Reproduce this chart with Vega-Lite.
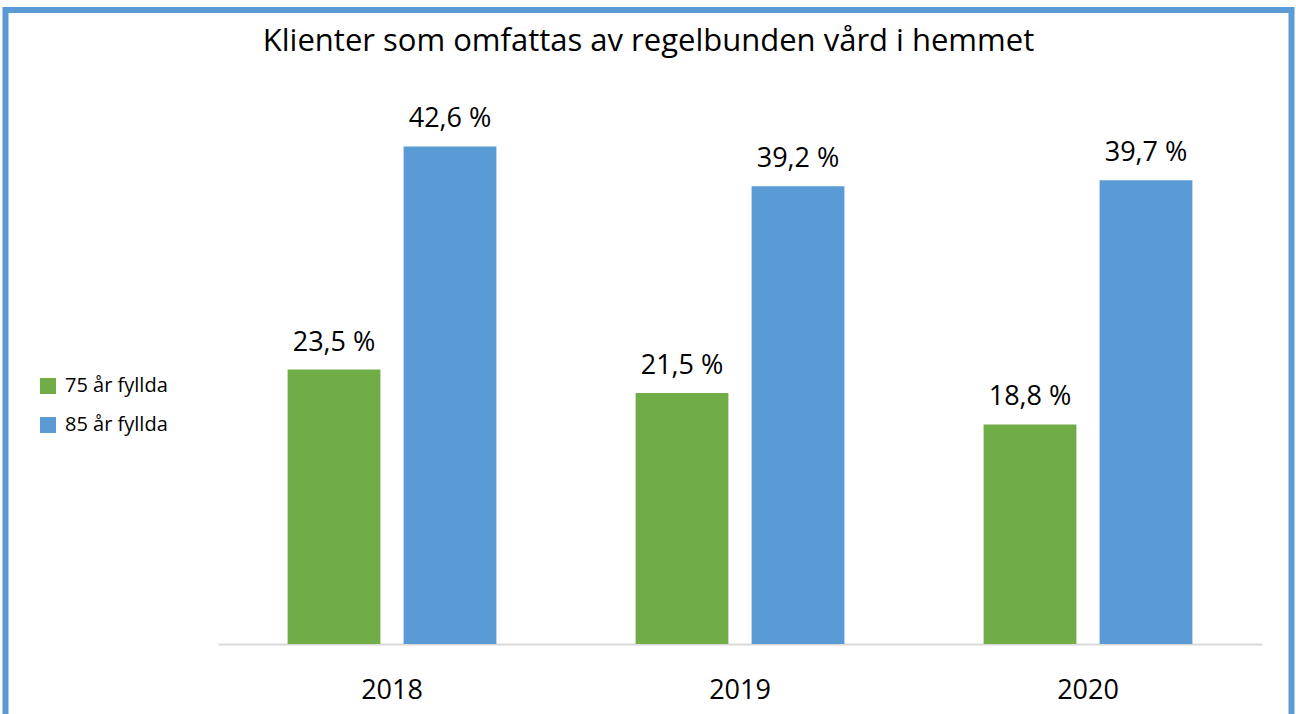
{
  "$schema": "https://vega.github.io/schema/vega-lite/v6.json",
  "width": 1286,
  "height": 710,
  "autosize": {"type": "none"},
  "padding": {"left": 5.5, "top": 10, "right": 4.5, "bottom": -6},
  "background": "white",
  "config": {
    "font": "Open Sans",
    "view": {"stroke": "#5B9BD5", "strokeWidth": 6}
  },
  "title": {
    "text": "Klienter som omfattas av regelbunden vård i hemmet",
    "anchor": "middle",
    "frame": "group",
    "baseline": "alphabetic",
    "offset": -72,
    "fontSize": 31,
    "fontWeight": "normal",
    "color": "#000000"
  },
  "data": {
    "values": [
      {"year": "2018", "group": "75 år fyllda", "value": 23.5},
      {"year": "2018", "group": "85 år fyllda", "value": 42.6},
      {"year": "2019", "group": "75 år fyllda", "value": 21.5},
      {"year": "2019", "group": "85 år fyllda", "value": 39.2},
      {"year": "2020", "group": "75 år fyllda", "value": 18.8},
      {"year": "2020", "group": "85 år fyllda", "value": 39.7}
    ]
  },
  "transform": [
    {"calculate": "replace(format(datum.value, '.1f'), '.', ',') + ' %'", "as": "label"}
  ],
  "encoding": {
    "x": {
      "field": "year",
      "type": "nominal",
      "scale": {"range": [212.5, 1256.5], "paddingInner": 0, "paddingOuter": 0},
      "axis": {
        "title": null,
        "orient": "bottom",
        "offset": -76,
        "labelAngle": 0,
        "ticks": false,
        "domainColor": "#D9D9D9",
        "domainWidth": 2,
        "labelFontSize": 27,
        "labelColor": "#000000",
        "labelPadding": 33
      }
    },
    "xOffset": {
      "field": "group",
      "type": "nominal",
      "scale": {"paddingInner": 0.2, "paddingOuter": 0.6}
    },
    "y": {
      "field": "value",
      "type": "quantitative",
      "scale": {"domain": [0, 54.28], "range": [634, 0], "nice": false, "zero": true},
      "axis": null
    }
  },
  "layer": [
    {
      "mark": {"type": "bar"},
      "encoding": {
        "color": {
          "field": "group",
          "type": "nominal",
          "scale": {"domain": ["75 år fyllda", "85 år fyllda"], "range": ["#70AD47", "#5B9BD5"]},
          "legend": {
            "title": null,
            "orient": "none",
            "legendX": 32.5,
            "legendY": 366,
            "padding": 0,
            "symbolType": "square",
            "symbolSize": 256,
            "symbolStrokeWidth": 0,
            "labelFontSize": 20,
            "labelColor": "#000000",
            "labelOffset": 7,
            "rowPadding": 19
          }
        }
      }
    },
    {
      "mark": {"type": "text", "baseline": "alphabetic", "dy": -19, "fontSize": 27, "color": "#000000"},
      "encoding": {"text": {"field": "label"}}
    }
  ]
}
